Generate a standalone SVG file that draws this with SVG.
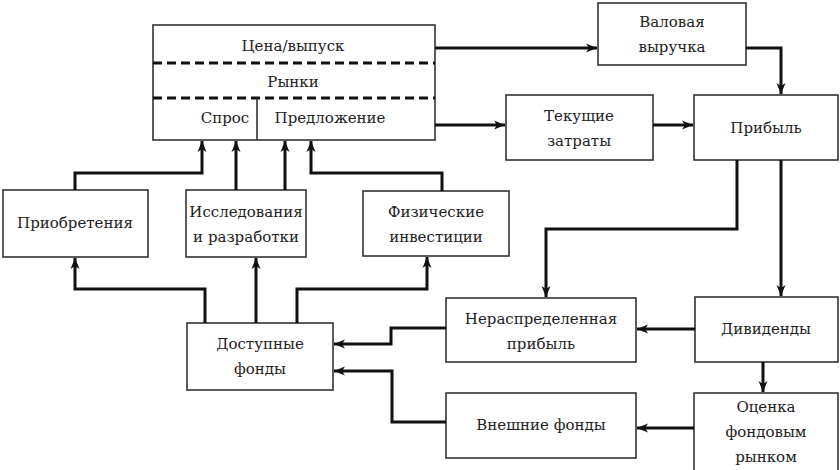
<svg xmlns="http://www.w3.org/2000/svg" width="840" height="470" viewBox="0 0 840 470">
<style>
.box{fill:#fff;stroke:#333;stroke-width:1.6}
.t{font-family:"DejaVu Serif","Liberation Serif",serif;font-size:15px;fill:#222;text-anchor:middle;dominant-baseline:central}
.c{fill:none;stroke:#111;stroke-width:3}
.dash{stroke:#111;stroke-width:3;stroke-dasharray:9 5}
</style>
<defs>
<marker id="a" markerUnits="userSpaceOnUse" markerWidth="12" markerHeight="10" refX="11" refY="5" orient="auto">
<path d="M0,0.5 L11,5 L0,9.5 L3,5 z" fill="#111"/>
</marker>
</defs>
<rect width="840" height="470" fill="#fff"/>
<g id="market">
<rect class="box" x="153" y="25" width="282" height="115"/>
<line class="dash" x1="153" y1="63" x2="435" y2="63"/>
<line class="dash" x1="153" y1="98" x2="435" y2="98"/>
<line x1="257" y1="98" x2="257" y2="140" stroke="#333" stroke-width="1.6"/>
<text class="t" x="293" y="46">Цена/выпуск</text>
<text class="t" x="293" y="82">Рынки</text>
<text class="t" x="225" y="118">Спрос</text>
<text class="t" x="330" y="118">Предложение</text>
</g>
<g id="acq">
<rect class="box" x="3" y="190" width="145" height="67"/>
<text class="t" x="75" y="223">Приобретения</text>
</g>
<g id="rnd">
<rect class="box" x="186" y="190" width="120" height="67"/>
<text class="t" x="246" y="212">Исследования</text>
<text class="t" x="246" y="237">и разработки</text>
</g>
<g id="phys">
<rect class="box" x="363" y="191" width="146" height="65"/>
<text class="t" x="436" y="212">Физические</text>
<text class="t" x="436" y="237">инвестиции</text>
</g>
<g id="gross">
<rect class="box" x="598" y="3" width="148" height="62"/>
<text class="t" x="672" y="22">Валовая</text>
<text class="t" x="672" y="47">выручка</text>
</g>
<g id="costs">
<rect class="box" x="506" y="95" width="147" height="65"/>
<text class="t" x="579" y="116">Текущие</text>
<text class="t" x="579" y="141">затраты</text>
</g>
<g id="profit">
<rect class="box" x="694" y="95" width="144" height="65"/>
<text class="t" x="766" y="128">Прибыль</text>
</g>
<g id="retained">
<rect class="box" x="446" y="298" width="190" height="64"/>
<text class="t" x="541" y="319">Нераспределенная</text>
<text class="t" x="541" y="344">прибыль</text>
</g>
<g id="div">
<rect class="box" x="695" y="297" width="143" height="65"/>
<text class="t" x="766" y="329">Дивиденды</text>
</g>
<g id="valuation">
<rect class="box" x="694" y="393" width="144" height="80"/>
<text class="t" x="766" y="407">Оценка</text>
<text class="t" x="766" y="432">фондовым</text>
<text class="t" x="766" y="457">рынком</text>
</g>
<g id="external">
<rect class="box" x="446" y="393" width="190" height="65"/>
<text class="t" x="541" y="425">Внешние фонды</text>
</g>
<g id="funds">
<rect class="box" x="187" y="323" width="146" height="67"/>
<text class="t" x="260" y="344">Доступные</text>
<text class="t" x="260" y="369">фонды</text>
</g>
<g id="connectors">
<path class="c" d="M75,190 V173 H202 V141" marker-end="url(#a)"/>
<path class="c" d="M236,190 V141" marker-end="url(#a)"/>
<path class="c" d="M285,190 V141" marker-end="url(#a)"/>
<path class="c" d="M442,191 V173 H311 V141" marker-end="url(#a)"/>
<path class="c" d="M435,48 H597" marker-end="url(#a)"/>
<path class="c" d="M746,48 H781 V94" marker-end="url(#a)"/>
<path class="c" d="M435,125 H505" marker-end="url(#a)"/>
<path class="c" d="M653,125 H693" marker-end="url(#a)"/>
<path class="c" d="M737,160 V229 H546 V297" marker-end="url(#a)"/>
<path class="c" d="M781,160 V296" marker-end="url(#a)"/>
<path class="c" d="M695,329 H637" marker-end="url(#a)"/>
<path class="c" d="M763,362 V392" marker-end="url(#a)"/>
<path class="c" d="M694,428 H637" marker-end="url(#a)"/>
<path class="c" d="M446,328 H391 V344 H334" marker-end="url(#a)"/>
<path class="c" d="M446,422 H392 V371 H334" marker-end="url(#a)"/>
<path class="c" d="M205,323 V289 H75 V258" marker-end="url(#a)"/>
<path class="c" d="M256,323 V258" marker-end="url(#a)"/>
<path class="c" d="M297,323 V289 H427 V257" marker-end="url(#a)"/>
</g>
</svg>
